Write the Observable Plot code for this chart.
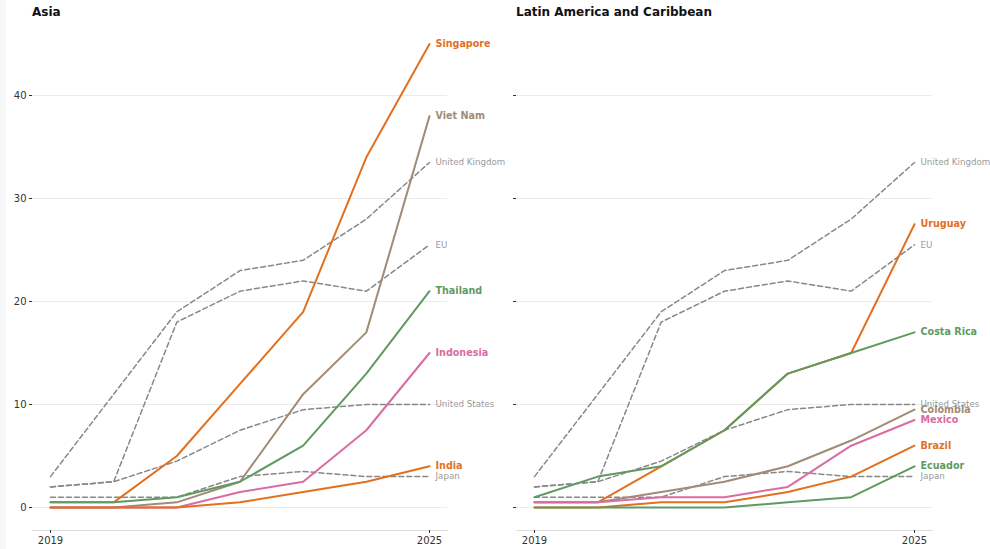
<!DOCTYPE html>
<html><head><meta charset="utf-8">
<script src="https://cdn.jsdelivr.net/npm/d3@7"></script>
<script src="https://cdn.jsdelivr.net/npm/@observablehq/plot@0.6"></script>
<style>
body{margin:0;background:#f7f7f7;font-family:"DejaVu Sans",sans-serif;}
#wrap{position:absolute;left:6px;top:0;width:984px;height:549px;background:#fff;display:flex;}
.panel{position:relative;}
.title{height:24px;line-height:24px;font-weight:bold;font-size:12px;color:#111;white-space:nowrap;}
</style></head><body><div id="wrap"></div><script>
const years = [2019, 2020, 2021, 2022, 2023, 2024, 2025];
const xTicks = [2019, 2025];
const yTicks = [0, 10, 20, 30, 40];

// Reference economies (dashed, same in both panels)
const refNames = ["United Kingdom", "EU", "United States", "Japan"];
const unitedKingdom = [3, 11, 19, 23, 24, 28, 33.5];
const eu = [2, 2.5, 18, 21, 22, 21, 25.5];
const unitedStates = [2, 2.5, 4.5, 7.5, 9.5, 10, 10];
const japan = [1, 1, 1, 3, 3.5, 3, 3];

// Asia
const asiaNames = ["Viet Nam", "Indonesia", "Singapore", "India", "Thailand"];
const vietNam = [0, 0, 0.5, 2.5, 11, 17, 38];
const indonesia = [0, 0, 0, 1.5, 2.5, 7.5, 15];
const singapore = [0.5, 0.5, 5, 12, 19, 34, 45];
const india = [0, 0, 0, 0.5, 1.5, 2.5, 4];
const thailand = [0.5, 0.5, 1, 2.5, 6, 13, 21];

// Latin America and Caribbean
const latamNames = ["Uruguay", "Colombia", "Mexico", "Brazil", "Costa Rica", "Ecuador"];
const uruguay = [0.5, 0.5, 4, 7.5, 13, 15, 27.5];
const colombia = [0.5, 0.5, 1.5, 2.5, 4, 6.5, 9.5];
const mexico = [0.5, 0.5, 1, 1, 2, 6, 8.5];
const brazil = [0, 0, 0.5, 0.5, 1.5, 3, 6];
const costaRica = [1, 3, 4, 7.5, 13, 15, 17];
const ecuador = [0, 0, 0, 0, 0.5, 1, 4];

const orange = "#e2701f", brown = "#a08b76", green = "#5f9a61", pink = "#d96ca3";
const refColor = "#888888", refLabel = "#999999";

const refSeries = [unitedKingdom, eu, unitedStates, japan];
const asiaSeries = [vietNam, indonesia, singapore, india, thailand];
const asiaColors = [brown, pink, orange, orange, green];
const latamSeries = [uruguay, colombia, mexico, brazil, costaRica, ecuador];
const latamColors = [orange, brown, pink, orange, green, green];

function rows(name, vals) { return years.map((y, i) => ({name, year: y, value: vals[i]})); }

function makePanel(title, width, marginLeft, marginRight, names, series, colors, showY) {
  const div = document.createElement("div");
  div.className = "panel";
  div.style.width = width + "px";
  const t = document.createElement("div");
  t.className = "title";
  t.style.paddingLeft = marginLeft + "px";
  t.textContent = title;
  div.appendChild(t);

  const refRows = refNames.flatMap((n, i) => rows(n, refSeries[i]));
  const refEnds = refNames.map((n, i) => ({name: n, year: 2025, value: refSeries[i][6]}));
  const marks = [
    Plot.gridY(yTicks, {stroke: "#ebebeb", strokeOpacity: 1}),
    Plot.axisY(yTicks, {tickSize: 3, tickPadding: 3, fontSize: 10, label: null,
      tickFormat: showY ? (d => d) : (() => "")}),
    Plot.frame({anchor: "bottom", stroke: "#dddddd"}),
    Plot.axisX(xTicks, {tickSize: 3, tickPadding: 3, fontSize: 10, tickFormat: d => String(d), label: null}),
    Plot.line(refRows, {x: "year", y: "value", z: "name", stroke: refColor, strokeWidth: 1.5, strokeDasharray: "5,3"}),
    Plot.text(refEnds, {x: "year", y: "value", text: "name", dx: 6, textAnchor: "start", fill: refLabel, fontSize: 8.7})
  ];
  names.forEach((n, i) => {
    marks.push(Plot.line(rows(n, series[i]), {x: "year", y: "value", stroke: colors[i], strokeWidth: 2}));
  });
  names.forEach((n, i) => {
    marks.push(Plot.text([{name: n, year: 2025, value: series[i][6]}], {x: "year", y: "value", text: "name", dx: 6,
      textAnchor: "start", fill: colors[i], fontWeight: "bold", fontSize: 9.6}));
  });
  const svg = Plot.plot({
    width, height: 525,
    marginLeft, marginRight, marginTop: 19.5, marginBottom: 19,
    style: {fontFamily: "DejaVu Sans", color: "#333", background: "transparent", overflow: "visible"},
    x: {domain: [2019, 2025], insetLeft: 18, insetRight: 18},
    y: {domain: [0, 45], insetBottom: 23},
    marks
  });
  div.appendChild(svg);
  return div;
}

const wrap = document.getElementById("wrap");
wrap.appendChild(makePanel("Asia", 489, 26, 48, asiaNames, asiaSeries, asiaColors, true));
wrap.appendChild(makePanel("Latin America and Caribbean", 495, 21, 58, latamNames, latamSeries, latamColors, false));
</script></body></html>
